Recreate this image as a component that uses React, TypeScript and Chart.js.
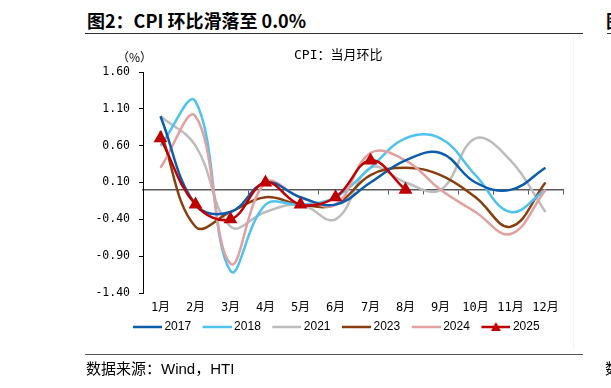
import React, { useEffect, useRef } from 'react';
import { Chart, registerables } from 'chart.js';

Chart.register(...registerables);

const months = ['1月', '2月', '3月', '4月', '5月', '6月', '7月', '8月', '9月', '10月', '11月', '12月'];
const years = ['2017', '2018', '2021', '2023', '2024', '2025'];
const s2017 = [1.0, -0.2, -0.3, 0.1, -0.1, -0.2, 0.1, 0.4, 0.5, 0.1, 0.0, 0.3];
const s2018 = [0.6, 1.2, -1.1, -0.2, -0.2, -0.1, 0.3, 0.7, 0.7, 0.2, -0.3, 0.0];
const s2021 = [1.0, 0.6, -0.5, -0.3, -0.2, -0.4, 0.3, 0.1, 0.0, 0.7, 0.4, -0.3];
const s2023 = [0.8, -0.5, -0.3, -0.1, -0.2, -0.2, 0.2, 0.3, 0.2, -0.1, -0.5, 0.1];
const s2024 = [0.3, 1.0, -1.0, 0.1, -0.1, -0.2, 0.5, 0.4, 0.0, -0.3, -0.6, 0.0];
const s2025 = [0.7, -0.2, -0.4, 0.1, -0.2, -0.1, 0.4, 0.0];
const yMin = -1.4;
const yMax = 1.6;
const yStep = 0.5;

const colors = ['#0B5CAD', '#4FC3F0', '#BDBDBD', '#8A3E0E', '#E3A0A0', '#C00000'];
const seriesList = [s2017, s2018, s2021, s2023, s2024, s2025];
const drawOrder = [1, 3, 5, 4, 2, 0];

function makeIcon(color: string, marker: boolean) {
  const c = document.createElement('canvas');
  c.width = 40;
  c.height = 12;
  const ctx = c.getContext('2d')!;
  ctx.strokeStyle = color;
  ctx.lineWidth = 2.5;
  ctx.beginPath();
  ctx.moveTo(11, 6);
  ctx.lineTo(40, 6);
  ctx.stroke();
  if (marker) {
    ctx.fillStyle = color;
    ctx.beginPath();
    ctx.moveTo(25.5, 1);
    ctx.lineTo(30.5, 10);
    ctx.lineTo(20.5, 10);
    ctx.closePath();
    ctx.fill();
  }
  return c;
}

export default function App() {
  const ref = useRef<HTMLCanvasElement | null>(null);

  useEffect(() => {
    if (!ref.current) return;
    const icons: Record<string, HTMLCanvasElement> = {};
    years.forEach((y, i) => {
      icons[y] = makeIcon(colors[i], i === 5);
    });
    const chart = new Chart(ref.current, {
      type: 'line',
      data: {
        labels: months,
        datasets: years.map((y, i) => ({
          label: y,
          data: seriesList[i],
          borderColor: colors[i],
          backgroundColor: colors[i],
          borderWidth: 2.5,
          tension: 0.4,
          pointRadius: i === 5 ? 5.5 : 0,
          pointStyle: 'triangle',
          pointBackgroundColor: colors[i],
          pointBorderColor: colors[i],
          order: drawOrder[i],
          fill: false,
        })),
      },
      options: {
        responsive: false,
        animation: false,
        layout: { padding: { left: 54, right: 0, top: 72, bottom: 45 } },
        plugins: {
          tooltip: { enabled: false },
          title: { display: false },
          legend: {
            position: 'bottom',
            labels: {
              usePointStyle: true,
              pointStyleWidth: 33,
              boxHeight: 12,
              padding: 4,
              color: '#000',
              font: { family: 'Liberation Sans, Arial, sans-serif', size: 12 },
              sort: (a: any, b: any) => a.datasetIndex - b.datasetIndex,
              generateLabels: (ch: any) =>
                Chart.defaults.plugins.legend.labels
                  .generateLabels(ch)
                  .map((l: any) => ({ ...l, pointStyle: icons[l.text] })),
            },
          },
        },
        scales: {
          x: {
            type: 'category',
            position: 'bottom',
            offset: true,
            grid: { display: false, drawTicks: false },
            border: { display: false },
            ticks: {
              padding: 8,
              color: '#000',
              maxRotation: 0,
              autoSkip: false,
              font: { family: 'DejaVu Sans Mono, Noto Sans CJK SC, monospace', size: 12 },
            },
            afterFit: (s: any) => {
              s.height = 24;
            },
          },
          x0: {
            type: 'category',
            position: { y: 0 } as any,
            offset: true,
            grid: {
              offset: true,
              drawOnChartArea: false,
              drawTicks: true,
              tickLength: 4,
              color: '#595959',
              lineWidth: 1,
            },
            border: { display: true, color: '#595959', width: 1.5 },
            ticks: { display: false },
            afterFit: (s: any) => {
              s.height = 0;
            },
          },
          y: {
            min: yMin,
            max: yMax,
            position: 'left',
            ticks: {
              stepSize: yStep,
              padding: 9,
              color: '#000',
              font: { family: 'DejaVu Sans Mono, monospace', size: 11.5 },
              callback: (v: any) => Number(v).toFixed(2),
            },
            grid: {
              drawOnChartArea: false,
              drawTicks: true,
              tickLength: 4,
              color: '#000',
            },
            border: { display: true, color: '#000', width: 1 },
            afterFit: (s: any) => {
              s.width = 89;
            },
          },
          yR: {
            type: 'linear',
            position: 'right',
            min: yMin,
            max: yMax,
            grid: { display: false, drawTicks: false },
            border: { display: false },
            ticks: { display: false },
            afterFit: (s: any) => {
              s.width = 48;
            },
          },
        },
      },
    });
    return () => chart.destroy();
  }, []);

  const cjk = '"Noto Sans CJK SC", sans-serif';
  return (
    <div style={{ position: 'fixed', left: 0, top: 0, width: 611, height: 388, background: '#fff', overflow: 'hidden' }}>
      <div style={{ position: 'absolute', left: 87, top: 7, fontFamily: cjk, fontWeight: 700, fontSize: 18, lineHeight: '26px', color: '#000', whiteSpace: 'nowrap' }}>
        图2：CPI 环比滑落至 0.0%
      </div>
      <div style={{ position: 'absolute', left: 85, top: 33, width: 498, height: 0, borderTop: '1.5px solid #333' }} />
      <div style={{ position: 'absolute', left: 606, top: 7, fontFamily: cjk, fontWeight: 700, fontSize: 18, lineHeight: '26px', color: '#000', whiteSpace: 'nowrap' }}>
        图
      </div>
      <div style={{ position: 'absolute', left: 607, top: 33, width: 10, height: 0, borderTop: '1.5px solid #333' }} />
      <div style={{ position: 'absolute', left: 573, top: 38, width: 1, height: 312, background: '#f3f3f3' }} />
      <canvas ref={ref} width={611} height={388} style={{ position: 'absolute', left: 0, top: 0 }} />
      <div style={{ position: 'absolute', left: 117, top: 48, fontFamily: cjk, fontSize: 12, lineHeight: '18px', color: '#000', whiteSpace: 'nowrap' }}>
        （%）
      </div>
      <div style={{ position: 'absolute', left: 294, top: 46, fontFamily: '"DejaVu Sans Mono", ' + cjk, fontSize: 13, lineHeight: '18px', color: '#000', whiteSpace: 'nowrap' }}>
        CPI：当月环比
      </div>
      <div style={{ position: 'absolute', left: 85, top: 354, width: 498, height: 0, borderTop: '1.5px solid #555' }} />
      <div style={{ position: 'absolute', left: 86, top: 358, fontFamily: cjk, fontSize: 15, lineHeight: '20px', color: '#000', whiteSpace: 'nowrap' }}>
        数据来源：<span style={{ fontFamily: '"Liberation Sans", sans-serif' }}>Wind</span>，<span style={{ fontFamily: '"Liberation Sans", sans-serif' }}>HTI</span>
      </div>
      <div style={{ position: 'absolute', left: 605, top: 358, fontFamily: cjk, fontSize: 15, lineHeight: '20px', color: '#000', whiteSpace: 'nowrap' }}>
        数
      </div>
    </div>
  );
}
